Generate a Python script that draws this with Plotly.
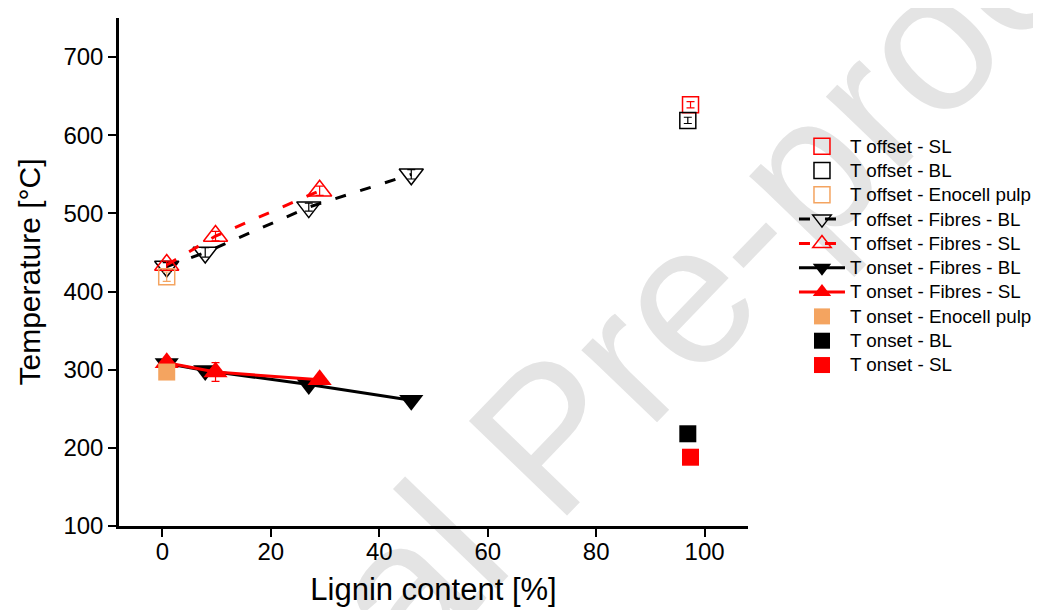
import plotly.graph_objects as go

# ---------------- data ----------------
fib_bl_x = [0.8, 7.9, 27.0, 45.9]
fib_sl_x = [0.8, 9.8, 29.0]
off_fib_bl = [432, 450, 508, 550]
off_fib_sl = [434, 471, 529]
on_fib_bl = [308, 299, 281, 261]
on_fib_sl = [309, 297, 287]
off_fib_bl_err = [5, 6, 5, 6]
off_fib_sl_err = [5, 6, 6]
on_fib_bl_err = [3, 4, 4, 3]
on_fib_sl_err = [3, 12, 3]

eno_x = [0.8]
eno_off = [419]
eno_on = [297]
eno_off_err = [6]

bl_x = [96.9]
sl_x = [97.4]
off_bl = [619]
off_sl = [639]
on_bl = [218]
on_sl = [188]
off_bl_err = [4]
off_sl_err = [4]

x_ticks = [0, 20, 40, 60, 80, 100]
y_ticks = [100, 200, 300, 400, 500, 600, 700]

names = ["T offset - SL", "T offset - BL", "T offset - Enocell pulp",
         "T offset - Fibres - BL", "T offset - Fibres - SL",
         "T onset - Fibres - BL", "T onset - Fibres - SL",
         "T onset - Enocell pulp", "T onset - BL", "T onset - SL"]

RED = "#ff0000"
BLACK = "#000000"
ORANGE = "#f4a460"
FONT = "Arial, 'Liberation Sans', sans-serif"


def nm(i):
    return '<span style="font-size:18.8px">%s</span>' % names[i]


def err(vals, color):
    return dict(type="data", array=vals, visible=True, color=color, thickness=1.2, width=4)


fig = go.Figure()

# offset fibres BL (open down triangles, black dashed)
fig.add_trace(go.Scatter(
    x=fib_bl_x, y=off_fib_bl, name=nm(3), legendrank=4, mode="lines+markers",
    line=dict(color=BLACK, width=3, dash="11px,15px"),
    marker=dict(symbol="triangle-down-open", size=21, color=BLACK, line=dict(width=1.5, color=BLACK)),
    error_y=err(off_fib_bl_err, BLACK)))
# offset fibres SL (open up triangles, red dashed)
fig.add_trace(go.Scatter(
    x=fib_sl_x, y=off_fib_sl, name=nm(4), legendrank=5, mode="lines+markers",
    line=dict(color=RED, width=3, dash="11px,15px"),
    marker=dict(symbol="triangle-up-open", size=21, color=RED, line=dict(width=1.5, color=RED)),
    error_y=err(off_fib_sl_err, RED)))
# onset fibres BL
fig.add_trace(go.Scatter(
    x=fib_bl_x, y=on_fib_bl, name=nm(5), legendrank=6, mode="lines+markers",
    line=dict(color=BLACK, width=3),
    marker=dict(symbol="triangle-down", size=21, color=BLACK),
    error_y=err(on_fib_bl_err, BLACK)))
# onset fibres SL
fig.add_trace(go.Scatter(
    x=fib_sl_x, y=on_fib_sl, name=nm(6), legendrank=7, mode="lines+markers",
    line=dict(color=RED, width=3),
    marker=dict(symbol="triangle-up", size=21, color=RED),
    error_y=err(on_fib_sl_err, RED)))
# Enocell pulp
fig.add_trace(go.Scatter(
    x=eno_x, y=eno_off, name=nm(2), legendrank=3, mode="markers",
    marker=dict(symbol="square-open", size=16, color=ORANGE, line=dict(width=1.5, color=ORANGE)),
    error_y=err(eno_off_err, ORANGE)))
fig.add_trace(go.Scatter(
    x=eno_x, y=eno_on, name=nm(7), legendrank=8, mode="markers",
    marker=dict(symbol="square", size=17, color=ORANGE)))
# BL / SL lignin
fig.add_trace(go.Scatter(
    x=sl_x, y=off_sl, name=nm(0), legendrank=1, mode="markers",
    marker=dict(symbol="square-open", size=16, color=RED, line=dict(width=1.5, color=RED)),
    error_y=err(off_sl_err, RED)))
fig.add_trace(go.Scatter(
    x=bl_x, y=off_bl, name=nm(1), legendrank=2, mode="markers",
    marker=dict(symbol="square-open", size=16, color=BLACK, line=dict(width=1.5, color=BLACK)),
    error_y=err(off_bl_err, BLACK)))
fig.add_trace(go.Scatter(
    x=bl_x, y=on_bl, name=nm(8), legendrank=9, mode="markers",
    marker=dict(symbol="square", size=17, color=BLACK)))
fig.add_trace(go.Scatter(
    x=sl_x, y=on_sl, name=nm(9), legendrank=10, mode="markers",
    marker=dict(symbol="square", size=17, color=RED)))

axis_common = dict(
    showgrid=False, zeroline=False, showline=True, linecolor=BLACK, linewidth=2.5,
    ticks="outside", ticklen=8, tickwidth=2, tickcolor=BLACK, automargin=False,
    tickfont=dict(family=FONT, size=24, color=BLACK),
)

# page body adds an 8px offset, so the figure is 8px smaller on each side
fig.update_layout(
    width=1033, height=602,
    margin=dict(l=111, r=293, t=10, b=84, autoexpand=False),
    paper_bgcolor="white", plot_bgcolor="white",
    font=dict(family=FONT, color=BLACK),
    xaxis=dict(range=[-8, 108], tickvals=x_ticks, ticklabelstandoff=-6,
               title=dict(text="Lignin content [%]", font=dict(family=FONT, size=31, color=BLACK), standoff=15),
               **axis_common),
    yaxis=dict(range=[100, 750], tickvals=y_ticks,
               title=dict(text="Temperature [°C]", font=dict(family=FONT, size=30, color=BLACK), standoff=14),
               **axis_common),
    showlegend=True,
    legend=dict(x=1.0731, y=0.7815, xanchor="left", yanchor="top", bgcolor="rgba(0,0,0,0)",
                font=dict(family=FONT, size=16.4, color=BLACK), itemwidth=46),
    shapes=[dict(type="line", xref="paper", yref="paper", x0=0.651, x1=0.671, y0=0.203, y1=0.203,
                 layer="below", line=dict(width=0, color="rgba(0,0,0,0)"),
                 label=dict(text="Journal Pre-proof", textangle=-46, xanchor="center", yanchor="middle",
                            textposition="middle", font=dict(family=FONT, size=198, color="#e4e4e4")))],
)

fig.write_html("out.html")
